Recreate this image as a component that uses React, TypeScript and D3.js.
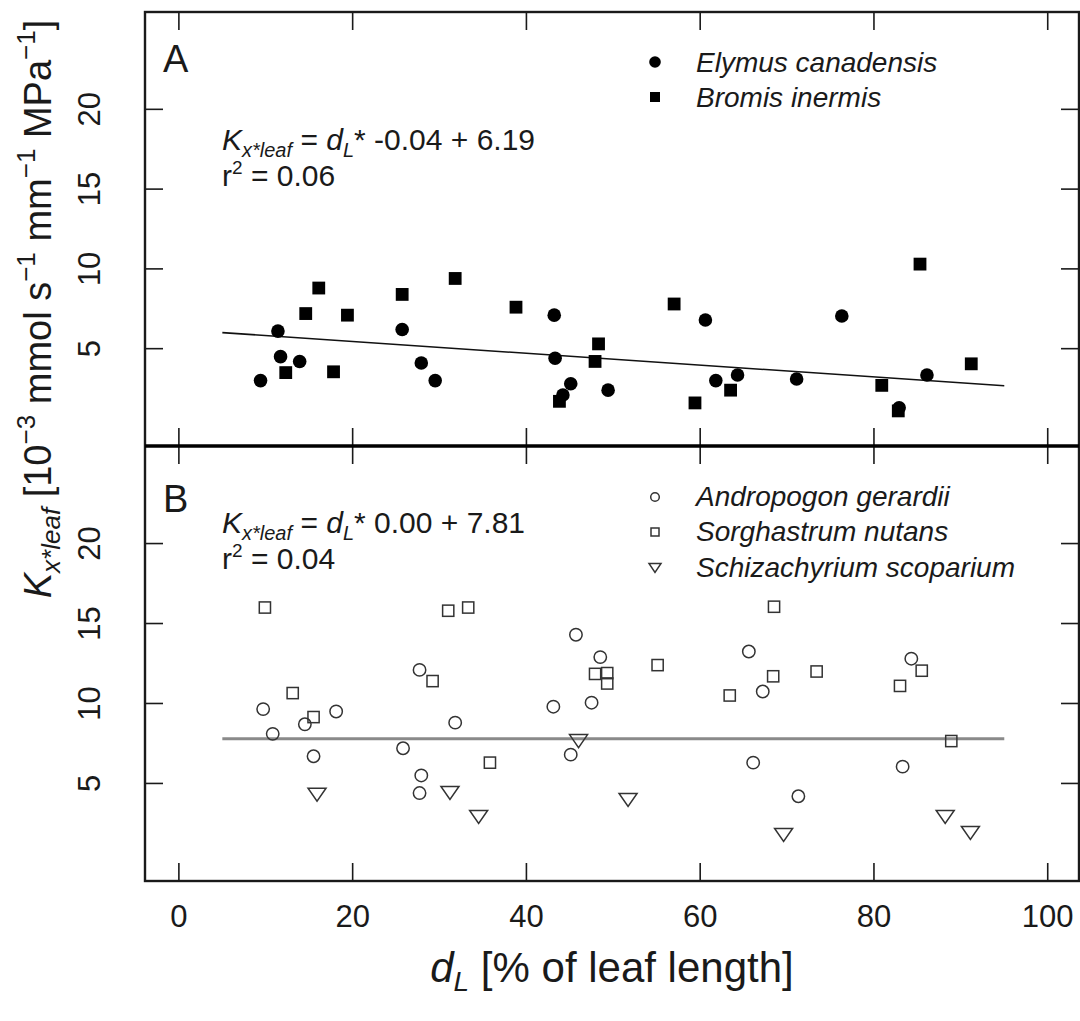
import React from 'react';
import { scaleLinear, line } from 'd3';

// panel A: filled symbols
const elymus: [number, number][] = [
  [9.4, 3.0], [11.4, 6.1], [11.7, 4.5], [13.9, 4.2], [25.7, 6.2], [27.9, 4.1],
  [29.5, 3.0], [43.2, 7.1], [43.3, 4.4], [45.1, 2.8], [44.2, 2.1], [49.4, 2.4],
  [60.6, 6.8], [61.8, 3.0], [64.3, 3.35], [71.1, 3.1], [76.3, 7.05], [82.9, 1.3],
  [86.1, 3.35]
];
const bromis: [number, number][] = [
  [12.3, 3.5], [14.6, 7.2], [16.1, 8.8], [17.8, 3.55], [19.4, 7.1], [25.7, 8.4],
  [31.8, 9.4], [38.8, 7.6], [43.8, 1.7], [47.9, 4.2], [48.3, 5.3], [57.0, 7.8],
  [59.4, 1.6], [63.5, 2.4], [80.9, 2.7], [82.8, 1.1], [85.3, 10.3], [91.2, 4.05]
];

// panel B: open symbols
const andropogon: [number, number][] = [
  [9.7, 9.65], [10.8, 8.1], [14.5, 8.7], [15.5, 6.7], [18.1, 9.5], [25.8, 7.2],
  [27.7, 12.1], [27.9, 5.5], [27.7, 4.4], [31.8, 8.8], [43.1, 9.8], [45.7, 14.3],
  [48.5, 12.9], [47.5, 10.05], [45.1, 6.8], [65.6, 13.25], [67.2, 10.75],
  [66.1, 6.3], [71.3, 4.2], [84.3, 12.8], [83.3, 6.05]
];
const sorghastrum: [number, number][] = [
  [9.9, 16.0], [13.1, 10.65], [15.5, 9.15], [29.2, 11.4], [31.0, 15.8], [33.3, 16.0],
  [35.8, 6.3], [47.9, 11.85], [49.3, 11.9], [49.3, 11.25], [55.1, 12.4], [63.4, 10.5],
  [68.4, 11.7], [68.5, 16.05], [73.4, 12.0], [83.0, 11.1], [85.5, 12.05], [88.9, 7.65]
];
const schizachyrium: [number, number][] = [
  [15.9, 4.3], [31.2, 4.4], [34.5, 2.9], [46.0, 7.65], [51.7, 3.97], [69.6, 1.78],
  [88.2, 2.9], [91.1, 1.9]
];

// regression lines: [intercept, slope], drawn over fitRange
const fitA = [6.19, -0.037];
const fitB = [7.8, 0.0];
const fitRange = [5, 95];

const xTicks = [0, 20, 40, 60, 80, 100];
const yTicks = [5, 10, 15, 20];

const W = 1080;
const H = 1021;
const left = 145;
const right = 1079;
const topA = 12;
const mid = 446;
const bottomB = 881;
const tickLen = 18;
const font = '"Liberation Sans", Arial, Helvetica, sans-serif';
const ink = '#1a1a1a';

const x = scaleLinear().domain([-3.9, 103.6]).range([left, right]);
const yA = scaleLinear().domain([-1.1, 26.1]).range([mid, topA]);
const yB = scaleLinear().domain([-1.1, 26.1]).range([bottomB, mid]);

function fitLine(fit: number[], y: any) {
  const pts: [number, number][] = fitRange.map(v => [v, fit[0] + fit[1] * v]);
  return line<[number, number]>()
    .x(d => x(d[0]))
    .y(d => y(d[1]))(pts) as string;
}

function triangle(cx: number, cy: number, w: number, h: number) {
  return `M${cx - w / 2},${cy - h / 2}L${cx + w / 2},${cy - h / 2}L${cx},${cy + h / 2}Z`;
}

function Frame({ y, top, bottom }: { y: any; top: number; bottom: number }) {
  return (
    <g stroke={ink} strokeWidth={1.6}>
      {xTicks.map(t => (
        <g key={'x' + t}>
          <line x1={x(t)} x2={x(t)} y1={top} y2={top + tickLen} />
          <line x1={x(t)} x2={x(t)} y1={bottom} y2={bottom - tickLen} />
        </g>
      ))}
      {yTicks.map(t => (
        <g key={'y' + t}>
          <line x1={left} x2={left + tickLen} y1={y(t)} y2={y(t)} />
          <line x1={right} x2={right - tickLen} y1={y(t)} y2={y(t)} />
        </g>
      ))}
      {yTicks.map(t => (
        <text
          key={'l' + t}
          transform={`translate(100,${y(t)}) rotate(-90)`}
          textAnchor="middle"
          fontSize={31}
          fill={ink}
          stroke="none"
        >
          {t}
        </text>
      ))}
    </g>
  );
}

function Equation({ yPos, coef, r2 }: { yPos: number; coef: string; r2: string }) {
  return (
    <g fontSize={30} fill={ink}>
      <text x={222} y={yPos}>
        <tspan fontStyle="italic">K</tspan>
        <tspan fontStyle="italic" fontSize={20} dy={7}>x*leaf</tspan>
        <tspan dy={-7}> = </tspan>
        <tspan fontStyle="italic">d</tspan>
        <tspan fontStyle="italic" fontSize={20} dy={7}>L</tspan>
        <tspan dy={-7}>{'* ' + coef}</tspan>
      </text>
      <text x={222} y={yPos + 36}>
        r<tspan fontSize={19} dy={-12}>2</tspan>
        <tspan dy={12}>{' = ' + r2}</tspan>
      </text>
    </g>
  );
}

export default function App() {
  const lx = 655;
  const tx = 696;
  return (
    <svg
      width={W}
      height={H}
      style={{ position: 'absolute', left: 0, top: 0, background: '#fff' }}
      fontFamily={font}
    >
      <rect width={W} height={H} fill="#fff" />

      <Frame y={yA} top={topA} bottom={mid} />
      <Frame y={yB} top={mid} bottom={bottomB} />

      {/* outer box and divider */}
      <rect
        x={left}
        y={topA}
        width={right - left}
        height={bottomB - topA}
        fill="none"
        stroke={ink}
        strokeWidth={2.4}
      />
      <line x1={left} x2={right} y1={mid} y2={mid} stroke="#000" strokeWidth={3.5} />

      {/* panel A */}
      <text x={163} y={72} fontSize={38} fill={ink}>A</text>
      <Equation yPos={150} coef="-0.04 + 6.19" r2="0.06" />
      <path d={fitLine(fitA, yA)} fill="none" stroke="#111" strokeWidth={1.6} />
      {elymus.map((d, i) => (
        <circle key={'e' + i} cx={x(d[0])} cy={yA(d[1])} r={6.8} fill="#000" />
      ))}
      {bromis.map((d, i) => (
        <rect key={'b' + i} x={x(d[0]) - 6.4} y={yA(d[1]) - 6.4} width={12.8} height={12.8} fill="#000" />
      ))}
      <circle cx={lx} cy={62} r={5.8} fill="#000" />
      <rect x={lx - 5} y={92} width={10} height={10} fill="#000" />
      <g fontSize={28} fontStyle="italic" fill={ink}>
        <text x={tx} y={72}>Elymus canadensis</text>
        <text x={tx} y={107}>Bromis inermis</text>
      </g>

      {/* panel B */}
      <text x={163} y={512} fontSize={38} fill={ink}>B</text>
      <Equation yPos={533} coef="0.00 + 7.81" r2="0.04" />
      <path d={fitLine(fitB, yB)} fill="none" stroke="#8a8a8a" strokeWidth={3} />
      <g fill="none" stroke="#333" strokeWidth={1.5}>
        {andropogon.map((d, i) => (
          <circle key={'a' + i} cx={x(d[0])} cy={yB(d[1])} r={6.2} />
        ))}
        {sorghastrum.map((d, i) => (
          <rect key={'s' + i} x={x(d[0]) - 5.6} y={yB(d[1]) - 5.6} width={11.2} height={11.2} />
        ))}
        {schizachyrium.map((d, i) => (
          <path key={'t' + i} d={triangle(x(d[0]), yB(d[1]), 18, 13)} />
        ))}
        <circle cx={lx} cy={497} r={4.3} />
        <rect x={lx - 4} y={528} width={8} height={8} />
        <path d={triangle(lx, 568, 12, 9)} />
      </g>
      <g fontSize={28} fontStyle="italic" fill={ink}>
        <text x={tx} y={506}>Andropogon gerardii</text>
        <text x={tx} y={541}>Sorghastrum nutans</text>
        <text x={tx} y={577}>Schizachyrium scoparium</text>
      </g>

      {/* x axis labels */}
      {xTicks.map(t => (
        <text key={'xl' + t} x={x(t)} y={927} textAnchor="middle" fontSize={31} fill={ink}>
          {t}
        </text>
      ))}
      <text x={(left + right) / 2} y={982} textAnchor="middle" fontSize={42} fill={ink}>
        <tspan fontStyle="italic">d</tspan>
        <tspan fontStyle="italic" fontSize={28} dy={9}>L</tspan>
        <tspan dy={-9}>{'  [% of leaf length]'}</tspan>
      </text>

      {/* y axis title */}
      <text transform="translate(51,309) rotate(-90)" textAnchor="middle" fontSize={38} fill={ink}>
        <tspan fontStyle="italic">K</tspan>
        <tspan fontStyle="italic" fontSize={26} dy={9}>x*leaf</tspan>
        <tspan dy={-9}> [10</tspan>
        <tspan fontSize={26} dy={-16}>−3</tspan>
        <tspan dy={16}> mmol s</tspan>
        <tspan fontSize={26} dy={-16}>−1</tspan>
        <tspan dy={16}> mm</tspan>
        <tspan fontSize={26} dy={-16}>−1</tspan>
        <tspan dy={16}> MPa</tspan>
        <tspan fontSize={26} dy={-16}>−1</tspan>
        <tspan dy={16}>]</tspan>
      </text>
    </svg>
  );
}
